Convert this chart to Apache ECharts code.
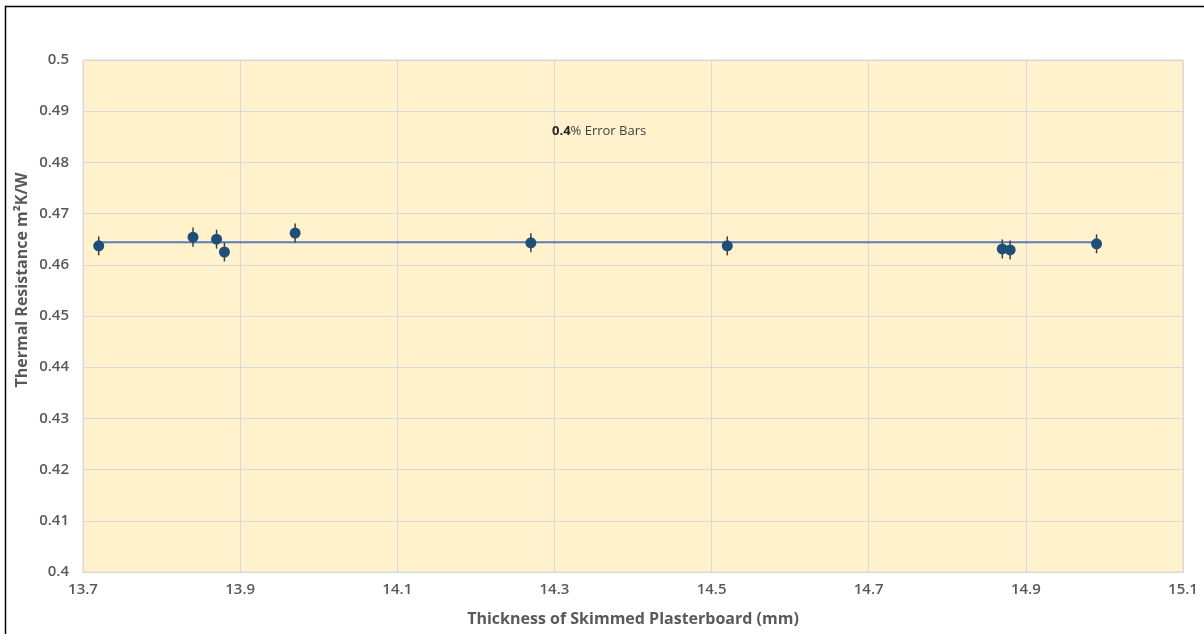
<!DOCTYPE html>
<html>
<head>
<meta charset="utf-8">
<script src="https://cdn.jsdelivr.net/npm/echarts@6/dist/echarts.min.js"></script>
<style>
  html, body { margin: 0; padding: 0; background: #fff; }
  #chart { width: 1204px; height: 634px; }
</style>
</head>
<body>
<div id="chart"></div>
<script>
// thickness of skimmed plasterboard (mm)
const thickness = [13.72, 13.84, 13.87, 13.88, 13.97, 14.27, 14.52, 14.87, 14.88, 14.99];
// thermal resistance m2K/W
const resistance = [0.4637, 0.4654, 0.4650, 0.4625, 0.4662, 0.4643, 0.4637, 0.4631, 0.4629, 0.4641];
const errorPct = 0.4;
// trend line end points
const trendX = [13.72, 14.99];
const trendY = [0.4644, 0.4644];

const chart = echarts.init(document.getElementById("chart"));

const points = thickness.map((x, i) => [x, resistance[i]]);
const errData = thickness.map((x, i) => {
  const d = resistance[i] * errorPct / 100;
  return [x, resistance[i] - d, resistance[i] + d];
});
const trend = trendX.map((x, i) => [x, trendY[i]]);

const labelFont = { color: "#595959", fontFamily: "Open Sans", fontWeight: 600, fontSize: 15 };

const options = {
  animation: false,
  grid: {
    left: 83, top: 60, width: 1100, height: 512,
    show: true,
    backgroundColor: "#FFF2CC",
    borderColor: "#D9D9D9",
    borderWidth: 1
  },
  xAxis: {
    type: "value",
    min: 13.7,
    max: 15.1,
    interval: 0.2,
    name: "Thickness of Skimmed Plasterboard (mm)",
    nameLocation: "middle",
    nameGap: 39,
    nameTextStyle: { color: "#595959", fontFamily: "Open Sans", fontWeight: "bold", fontSize: 16 },
    axisLine: { show: true, lineStyle: { color: "#D9D9D9" } },
    axisTick: { show: false },
    splitLine: { show: true, lineStyle: { color: "#D9D9D9", width: 1 } },
    axisLabel: Object.assign({ margin: 10, formatter: v => v.toFixed(1) }, labelFont)
  },
  yAxis: {
    type: "value",
    min: 0.4,
    max: 0.5,
    interval: 0.01,
    axisLine: { show: false },
    axisTick: { show: false },
    splitLine: { show: true, lineStyle: { color: "#D9D9D9", width: 1 } },
    axisLabel: Object.assign({ margin: 14, formatter: v => String(+v.toFixed(2)) }, labelFont)
  },
  graphic: [
    {
      type: "rect",
      shape: { x: 5.5, y: 6.5, width: 1400, height: 800 },
      style: { fill: "none", stroke: "#000", lineWidth: 1.5 },
      silent: true
    },
    {
      type: "text",
      x: 22,
      y: 280,
      rotation: Math.PI / 2,
      style: {
        text: "Thermal Resistance m\u00B2K/W",
        fill: "#595959",
        fontFamily: "Open Sans",
        fontWeight: "bold",
        fontSize: 16,
        align: "center",
        verticalAlign: "middle"
      }
    },
    {
      type: "text",
      x: 552,
      y: 131,
      z: 100,
      style: {
        text: "{b|0.4}% Error Bars",
        fill: "#404040",
        fontFamily: "Open Sans",
        fontSize: 13,
        verticalAlign: "middle",
        rich: { b: { fontWeight: "bold", fontFamily: "Open Sans", fontSize: 13, fill: "#262626" } }
      }
    }
  ],
  series: [
    {
      name: "Trend",
      type: "line",
      data: trend,
      showSymbol: false,
      symbol: "none",
      lineStyle: { color: "#5A7DB5", width: 2 },
      z: 2
    },
    {
      name: "Error",
      type: "custom",
      data: errData,
      renderItem: (params, api) => {
        const top = api.coord([api.value(0), api.value(2)]);
        const bot = api.coord([api.value(0), api.value(1)]);
        return {
          type: "line",
          shape: { x1: top[0], y1: top[1], x2: bot[0], y2: bot[1] },
          style: { stroke: "#3F3F3F", lineWidth: 1.5 }
        };
      },
      z: 3
    },
    {
      name: "Resistance",
      type: "scatter",
      data: points,
      symbol: "circle",
      symbolSize: 11,
      itemStyle: { color: "#1F4E79", opacity: 1 },
      z: 4
    }
  ]
};

chart.setOption(options);
</script>
</body>
</html>
